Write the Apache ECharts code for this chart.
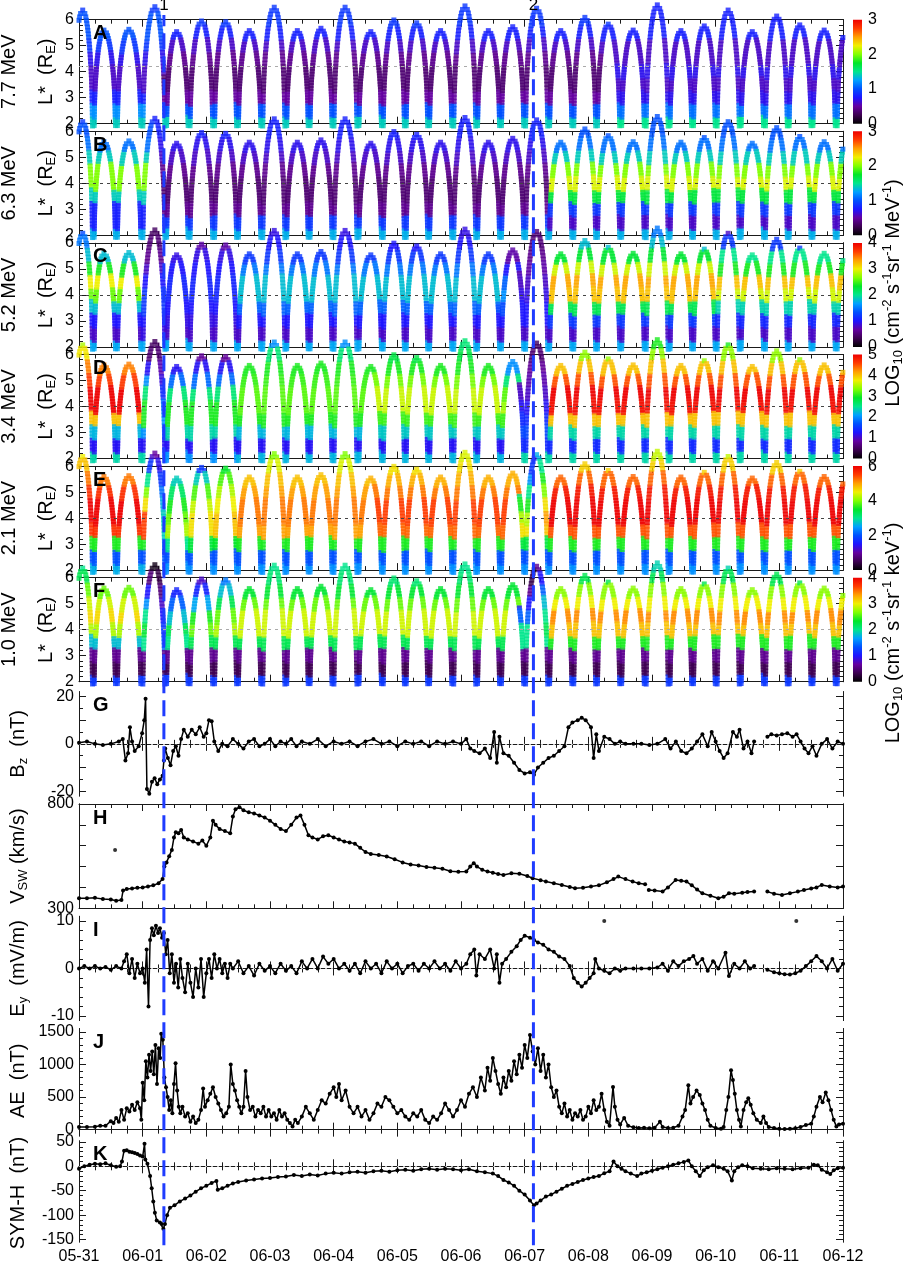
<!DOCTYPE html>
<html>
<head>
<meta charset="utf-8">
<title>Radiation belt electrons and solar wind, 31 May - 12 June</title>
<script src="https://cdn.jsdelivr.net/npm/echarts/dist/echarts.min.js"></script>
<style>
  html, body { margin: 0; padding: 0; background: #fff; }
  #chart { width: 906px; height: 1265px; }
</style>
</head>
<body>
<div id="chart"></div>
<script>
var FONT = '"Liberation Sans", Arial, Helvetica, sans-serif';

// ---- time axis (hours from 05-31 00:00) ----
var dayLabels = ['05-31', '06-01', '06-02', '06-03', '06-04', '06-05', '06-06', '06-07', '06-08', '06-09', '06-10', '06-11', '06-12'];
var eventT = [32.0, 171.3];
var eventNames = ['1', '2'];

// ---- orbit apogees ----
var peakT = [1.4, 9.4, 18.8, 28.6, 36.8, 46.2, 55.3, 64.2, 73.6, 82.3, 91.2, 100.3, 110.0, 118.7, 127.3, 136.3, 145.5,
             154.3, 163.5, 172.5, 181.6, 190.7, 199.5, 208.9, 218.0, 226.9, 235.7, 244.7, 253.8, 263.0, 271.7, 280.9, 290.0];
var peakL = [6.37, 5.6, 5.63, 6.5, 5.54, 5.95, 5.92, 5.58, 6.48, 5.58, 5.67, 6.48, 5.54, 5.99, 5.88, 5.58, 6.53,
             5.58, 5.73, 6.44, 5.58, 6.09, 5.83, 5.6, 6.57, 5.58, 5.76, 6.37, 5.54, 6.14, 5.8, 5.6, 5.9];
// one orbit's shape: fraction of (apogee - 2) against time from apogee in half orbits
var arcFrac = [1.00, 0.97, 0.94, 0.91, 0.88, 0.85, 0.82, 0.79, 0.76, 0.73, 0.70, 0.67, 0.64, 0.61, 0.58, 0.55, 0.52, 0.49,
               0.46, 0.43, 0.40, 0.37, 0.34, 0.31, 0.28, 0.25, 0.22, 0.19, 0.16, 0.13, 0.10, 0.07, 0.04, 0.01, -0.02];
var arcTau = [0.00, 0.20, 0.29, 0.35, 0.40, 0.45, 0.49, 0.53, 0.56, 0.59, 0.62, 0.65, 0.67, 0.70, 0.72, 0.74, 0.76, 0.78,
              0.80, 0.81, 0.83, 0.84, 0.85, 0.86, 0.87, 0.88, 0.885, 0.89, 0.895, 0.90, 0.905, 0.91, 0.915, 0.92, 0.925];
var lNodes = [2, 2.5, 3, 3.5, 4, 4.5, 5, 5.5, 6, 6.5];

var energies = ['7.7 MeV', '6.3 MeV', '5.2 MeV', '3.4 MeV', '2.1 MeV', '1.0 MeV'];
var fluxMax = [3, 3, 4, 5, 6, 4];
var fluxStep = [1, 1, 1, 1, 2, 1];
var refL = [4.2, 4, 4, 4, 4, 4];

// log10 flux at lNodes, valid from the given hour on
var fluxA = [
  [0,   [1.4, 1.2, 0.8, 0.6, 0.6, 0.7, 0.9, 1.0, 1.0, 0.9]],
  [32,  [1.4, 1.0, 0.5, 0.35, 0.35, 0.45, 0.6, 0.8, 0.9, 0.9]],
  [200, [1.5, 1.1, 0.7, 0.6, 0.7, 0.6, 0.6, 0.8, 0.8, 0.8]]
];
var fluxB = [
  [0,    [1.3, 0.8, 0.8, 1.4, 2.0, 2.0, 1.4, 1.1, 1.0, 0.9]],
  [28.6, [1.3, 0.9, 0.45, 0.35, 0.35, 0.45, 0.6, 0.7, 0.8, 0.8]],
  [177,  [1.3, 0.6, 0.9, 1.7, 2.2, 2.0, 1.4, 1.1, 1.0, 1.0]]
];
var fluxC = [
  [0,   [1.7, 0.8, 1.0, 1.8, 2.6, 3.0, 2.4, 1.8, 1.5, 1.3]],
  [24,  [1.7, 0.9, 1.0, 1.2, 1.2, 1.0, 0.8, 0.6, 0.5, 0.4]],
  [33,  [1.7, 0.8, 0.9, 1.0, 1.1, 1.1, 1.0, 0.9, 0.7, 0.6]],
  [60,  [1.7, 0.8, 1.0, 1.4, 1.8, 1.8, 1.5, 1.2, 1.0, 0.9]],
  [158, [1.7, 0.8, 1.0, 1.3, 1.6, 1.4, 1.0, 0.7, 0.6, 0.5]],
  [166, [1.7, 0.8, 1.0, 1.0, 0.9, 0.8, 0.7, 0.6, 0.5, 0.5]],
  [177, [1.7, 0.8, 1.2, 2.2, 3.2, 3.3, 2.9, 2.3, 1.8, 1.5]],
  [240, [1.7, 0.8, 1.1, 1.9, 2.9, 3.2, 2.4, 2.0, 1.2, 0.8]]
];
var fluxD = [
  [0,    [2.4, 1.2, 2.2, 4.0, 5.0, 5.0, 4.6, 4.3, 3.8, 3.5]],
  [24,   [2.4, 1.2, 2.0, 3.0, 3.0, 2.6, 2.0, 1.2, 0.6, 0.5]],
  [28.6, [2.0, 1.2, 1.8, 2.0, 1.8, 1.4, 1.1, 0.9, 0.6, 0.5]],
  [33,   [2.0, 1.2, 2.4, 3.0, 3.0, 2.6, 1.8, 1.2, 0.8, 0.7]],
  [60,   [2.2, 1.2, 2.2, 3.0, 3.2, 3.2, 3.1, 3.0, 2.6, 2.0]],
  [110,  [2.2, 1.2, 2.3, 3.1, 3.6, 3.6, 3.3, 3.0, 2.8, 2.6]],
  [160,  [2.2, 1.2, 2.3, 3.0, 3.4, 3.2, 2.6, 2.0, 1.6, 1.4]],
  [166,  [2.4, 1.4, 1.6, 1.4, 1.2, 1.0, 0.9, 0.8, 0.6, 0.5]],
  [177,  [2.4, 1.4, 2.4, 4.0, 4.9, 5.0, 4.5, 4.0, 3.4, 3.0]]
];
var fluxE = [
  [0,     [2.6, 2.0, 3.6, 5.6, 6.0, 6.0, 5.6, 5.2, 4.8, 4.5]],
  [24,    [2.6, 2.0, 3.6, 5.5, 5.5, 4.6, 4.0, 3.0, 1.8, 1.2]],
  [28.6,  [2.4, 2.0, 2.6, 2.8, 2.8, 2.6, 2.2, 1.8, 1.4, 1.0]],
  [33,    [2.4, 2.0, 3.0, 4.2, 3.9, 3.6, 3.2, 2.8, 2.4, 2.0]],
  [42,    [2.4, 2.0, 3.4, 4.6, 4.6, 4.3, 3.8, 2.8, 1.8, 1.5]],
  [51,    [2.4, 2.0, 3.5, 4.8, 4.8, 4.5, 4.2, 3.8, 3.5, 3.2]],
  [60,    [2.4, 2.0, 3.6, 5.0, 5.2, 5.2, 5.0, 4.8, 4.4, 4.0]],
  [110,   [2.4, 2.0, 3.6, 5.3, 5.5, 5.5, 5.2, 4.9, 4.6, 4.4]],
  [166,   [2.4, 2.0, 3.4, 4.6, 4.2, 3.6, 3.0, 2.4, 1.8, 1.4]],
  [172.5, [2.4, 2.0, 3.4, 4.8, 5.0, 4.6, 4.0, 3.6, 3.0, 2.6]],
  [177,   [2.4, 2.0, 3.6, 5.4, 6.0, 6.0, 5.8, 5.3, 4.7, 4.3]]
];
var fluxF = [
  [0,     [1.2, 0.35, 0.6, 1.8, 2.8, 3.1, 2.9, 2.6, 2.2, 2.0]],
  [24,    [1.2, 0.35, 0.6, 2.0, 2.3, 2.0, 1.6, 1.0, 0.5, 0.1]],
  [28.6,  [1.2, 0.35, 0.6, 1.4, 1.2, 1.0, 0.8, 0.5, 0.3, 0.1]],
  [33,    [1.2, 0.35, 0.6, 2.0, 2.2, 1.8, 1.4, 1.1, 1.0, 0.9]],
  [42,    [1.2, 0.35, 0.6, 2.2, 2.6, 2.4, 1.7, 1.1, 0.8, 0.6]],
  [51,    [1.2, 0.35, 0.6, 2.2, 2.8, 2.6, 2.2, 1.8, 1.5, 1.3]],
  [60,    [1.2, 0.35, 0.6, 2.2, 2.9, 2.9, 2.6, 2.3, 2.1, 2.0]],
  [166,   [1.2, 0.35, 0.6, 2.0, 2.0, 1.4, 1.0, 0.6, 0.3, 0.1]],
  [172.5, [1.2, 0.35, 0.6, 2.0, 2.2, 2.0, 1.8, 1.4, 1.0, 0.6]],
  [177,   [1.2, 0.35, 0.6, 2.4, 3.2, 3.4, 3.0, 2.7, 2.2, 1.9]]
];
var fluxSegs = [fluxA, fluxB, fluxC, fluxD, fluxE, fluxF];

// ---- solar wind and indices: [hour, value] ----
var bz = [[0,0.5],[3,1],[6,0],[9,-0.5],[12,0],[15,1],[16.5,2],[17.5,-7],[18.5,-4],[19.2,7],[20,1],[21,-3],[22.5,-1],
  [23.8,4.5],[24.6,10],[25.1,19],[25.6,-19],[26.5,-21],[27.5,-16],[28.5,-14.5],[29.5,-17],[30.5,-15],[31.5,-13.5],
  [32,-7],[32.5,-2],[33.5,-6],[34.5,-9],[35.5,-3],[36.5,-1],[37.5,-5],[38.5,2],[39.5,6],[41,3],[42.5,6],[44,4],
  [45.5,7],[47,3],[48,4.5],[49,10],[50,9.5],[51,1],[52.5,-3],[54,0],[56,-1],[58,2],[60,0],[62,-2],[64,1],[66,2],
  [68,-1],[70,0],[72,2],[74,-1],[76,1],[78,0],[80,2],[82,-1],[84,1],[87,0],[90,2],[93,-1],[96,1],[99,0],[102,1],
  [105,-1],[108,1],[111,2],[114,0],[117,1],[120,-1],[123,1],[126,0],[129,1],[132,-1],[135,1],[138,0],[141,1],[144,0],
  [146,2],[147.5,-2],[149,-3],[151,-4],[153,-2],[155,-6],[156.5,5],[157.5,-8],[158.5,3],[160,-4],[162,-5],[164,-8],
  [166,-11],[168,-12.5],[170,-12],[171.5,-13],[173,-10],[175,-8],[177,-6],[179,-5],[181,-3],[183,-1],[184.5,7],
  [186,9],[188,10],[189.5,11],[191,10],[193,7],[194,-6],[195,4],[196,-3],[198,3],[200,2],[202,0],[204,1],[206,0],
  [209,0],[212,0],[215,-0.5],[218,0],[221,2],[223,-2],[225,1],[227,-3],[229,-4],[231,-2],[233,1],[235,4],[237,-1],
  [238.5,5],[240,1],[241.5,-3],[243,-6],[244.5,-4],[246.5,5],[248,3],[249,6],[250.5,-2],[252,1],[253.5,-4],[254.5,1],
  [256.5,null],[259.5,3],[261,4],[263,3.5],[265,4],[267,4.5],[269,3],[270.5,4],[272,1],[273.5,-2],[275,-4],
  [276.5,-1],[278,-5],[280,0],[282,2],[284,-2],[286,1],[288,0]];

var vsw = [[0,348],[3,348],[6,350],[9,345],[12,342],[14,336],[16,340],[16.6,385],[18,392],[20,395],[22,398],[24,400],
  [26,405],[28,410],[30,420],[31.5,440],[32.2,500],[33,520],[34,550],[35,580],[35.8,640],[36.5,665],[37.5,660],
  [38.5,675],[39.5,640],[41,630],[43,620],[45,610],[46.5,625],[48,600],[49.5,640],[50.5,720],[51.5,700],[53,680],
  [55,670],[57,660],[58,740],[59,775],[60.5,785],[62,770],[64,760],[66,755],[68,745],[70,735],[72,720],[74,700],
  [76,680],[78,670],[80,700],[82,735],[83.5,745],[85,700],[86.5,650],[88,640],[90,630],[92,645],[94,650],[96,640],
  [98,630],[100,620],[102,615],[104,610],[106,590],[108,570],[110,560],[113,555],[116,548],[119,535],[122,520],
  [125,510],[128,505],[131,498],[134,494],[137,490],[140,478],[143,475],[146,476],[147.5,500],[148.8,516],[150,500],
  [152,485],[154,476],[156,470],[158,464],[160,460],[163,468],[166,466],[169,455],[171,444],[174,435],[176,428],
  [179,420],[182,412],[185,402],[187,396],[190,398],[193,404],[196,410],[199,425],[201.5,440],[203.3,452],[206,440],
  [208.7,428],[211,420],[213.4,415],[214.1,null],[214.8,388],[217,385],[220,380],[222,400],[224.9,436],[227,432],
  [229,428],[231,410],[233,390],[235,372],[238,360],[241,348],[243,355],[245,372],[247,370],[250,375],[252,378],
  [254.5,380],[256.5,null],[259.5,380],[262,370],[265,364],[268,372],[271,380],[273.3,388],[276,395],[278,400],
  [280,412],[283,405],[286,400],[288,404]];
var vswOutliers = [[13.6, 580]];

var ey = [[0,0],[2,0.5],[4,0],[6,0.5],[8,0],[10,0.3],[12,-0.3],[14,0.5],[16,0],[17,1.5],[18,3],[19,-1],[20,2],[21,-2],
  [22,1],[23,-1],[24,0],[24.8,-3],[25.5,4],[26.2,-8],[26.8,6],[27.5,8.5],[28.2,7],[29,9],[29.8,7.5],[30.5,8.5],
  [31.3,6.5],[32,7.5],[32.7,3],[33.4,6],[34.2,-1],[35,3],[35.8,-3],[36.6,1],[37.4,-4],[38.2,2],[39,-2],[40,-5],[41,1],
  [42,-3],[43,-6],[44,0],[45,-4],[46,2],[47,-6],[48,-1],[49,2],[50,-2],[51,3],[52,0],[53,2],[54,-1],[55,1],[56,-2],
  [57,1],[58,0],[60,1.5],[62,-1],[64,0.5],[66,-1.5],[68,1],[70,-0.5],[72,0.5],[74,-1],[76,1],[78,-0.5],[80,0.5],
  [82,-1],[84,1.5],[86,0],[88,2],[90,0],[92,2.5],[94,1],[96,2],[98,0],[100,1],[102,-0.5],[104,1],[106,-1],[108,1.5],
  [110,0],[112,1],[114,-1],[116,1.5],[118,0],[120,1],[122,-1],[124,0.5],[126,1],[128,-0.5],[130,1],[132,0],[134,1.5],
  [136,0],[138,1],[140,-0.5],[142,1.5],[144,0],[146,1],[147.5,3],[149,4],[149.8,-1.5],[151,3],[153,2],[155,4],
  [156.5,0],[157.5,3],[158.5,-3],[159.5,1],[161,2],[163,3.5],[165,4.7],[166.5,6],[168,6.9],[170,6.5],[171.5,6],
  [173,5.5],[175,5],[177,4],[179,3.5],[181,2.5],[183,2],[185,0.5],[186.5,-2],[188,-3],[189.5,-3.8],[191,-3],
  [192.5,-2],[194,-1],[194.6,2],[196,0],[198,-0.5],[200,-1],[202,0],[204,-0.5],[206,0],[209,0],[212,0],[215,0],
  [218,0.2],[220,1],[222,-0.5],[224,1.5],[226,0.5],[228,1.5],[230,2],[231.6,2.6],[233,1],[235,2],[237,-0.5],[239,1.5],
  [241,0],[243.7,3.3],[245,-1.6],[247,1],[249,0],[251,1.5],[253,0],[254.5,0.5],[256.5,null],[259.5,-0.3],[262,-0.8],
  [264,-1],[266,-1.2],[268,-1.3],[270,-1],[272,-0.5],[274,0.5],[276,1.5],[278,2.6],[280,1.5],[282,0],[284,2],
  [286,-0.5],[288,1]];
var eyOutliers = [[198, 10], [270.4, 10]];

var ae = [[0,40],[3,40],[6,45],[8,60],[10,60],[12,130],[13,100],[14,180],[15,120],[16,300],[17,150],[18,330],[19,280],
  [20,380],[21,300],[22,420],[23,330],[23.5,150],[24,720],[24.6,450],[25.2,1050],[25.8,800],[26.4,1150],[27,900],
  [27.6,1200],[28.2,850],[28.8,1300],[29.4,700],[30,1250],[30.6,1100],[31,1470],[31.6,1380],[32.2,800],[32.8,650],
  [33.4,500],[34,300],[34.6,450],[35.2,250],[35.8,700],[36.4,1020],[37,600],[37.6,350],[38.2,250],[39,350],[40,200],
  [41,250],[42,120],[43,200],[44,100],[45,150],[46,300],[46.8,630],[47.5,350],[48.5,450],[49.5,550],[50.5,650],
  [51.5,500],[52.5,400],[53.5,300],[54.5,200],[55.5,250],[56.5,350],[57.2,1000],[58,700],[58.8,600],[59.6,450],
  [60.4,350],[61.2,250],[62,350],[62.8,900],[63.5,500],[64.5,300],[65.5,350],[66.5,200],[67.5,300],[68.5,250],
  [69.5,350],[70.5,200],[71.5,300],[72.5,200],[73.5,250],[74.5,150],[75.5,300],[76.5,200],[77.5,250],[78.5,150],
  [79.5,100],[80.5,50],[81.5,150],[82.5,100],[84,200],[85.5,350],[87,250],[88.5,150],[90,300],[91.5,450],[93,400],
  [94.5,550],[96,650],[97,500],[98,700],[99,450],[100.5,600],[102,350],[103.5,250],[105,350],[106.5,200],[108,300],
  [109.5,150],[111,250],[112.5,400],[114,350],[115.5,500],[117,450],[118.5,350],[120,250],[121.5,300],[123,200],
  [124.5,150],[126,250],[127.5,200],[129,300],[130.5,150],[132,100],[133.5,200],[135,150],[136.5,250],[138,400],
  [139.5,300],[141,200],[142.5,300],[144,450],[145.5,350],[147,550],[148.5,650],[150,500],[151.5,800],[153,600],
  [154,950],[155,750],[156,1100],[157,900],[158,700],[159,550],[160,800],[161,650],[162,900],[163,750],[164,1050],
  [165,850],[166,1150],[167,950],[168,1300],[169,1100],[170,1450],[171,1200],[172,1000],[173,1250],[174,900],
  [175,1150],[176,800],[177,1000],[178,650],[179,500],[180,600],[181,350],[182,250],[183,400],[184,200],[185,300],
  [186,150],[187,250],[188,200],[189,300],[190,150],[191,200],[192,350],[193,250],[194,450],[195,300],[196,350],
  [197,550],[198,300],[199,120],[200,60],[201.3,655],[202,350],[203,150],[204,80],[205.5,180],[207,60],[209,35],
  [211,25],[213,30],[215,20],[217,30],[219,120],[220,40],[222,25],[224,30],[226,60],[227.5,200],[228.5,300],
  [229.7,680],[230.5,400],[231.5,500],[232.8,600],[234,530],[235,400],[236,300],[237,150],[238,60],[240,25],[242,15],
  [243,40],[244,300],[244.8,500],[245.8,910],[246.5,760],[247.2,550],[248,300],[248.8,150],[249.5,50],[250.5,300],
  [251.5,420],[252.3,480],[253.2,380],[254.2,250],[255.5,150],[257,100],[258,200],[259,100],[260,40],[262,25],
  [264,15],[266,10],[268,15],[270,20],[272,40],[274,70],[276,90],[277,200],[278,350],[279.3,500],[280.3,420],
  [281.5,570],[282.5,450],[283.5,300],[284.5,150],[285.5,50],[286.5,80],[288,90]];

var symh = [[0,-5],[2,0],[4,3],[6,5],[8,4],[10,6],[12,2],[14,-1],[15.5,0],[16.2,10],[17,32],[18,33],[19,30],[20,29],
  [21,27],[22,25],[23,22],[24,20],[24.7,46],[25,14],[25.8,5],[26.8,-20],[27.4,-45],[28,-72],[28.6,-95],[29.3,-111],
  [30.5,-115],[31.2,-118],[31.8,-128],[32.4,-118],[33.2,-100],[34.3,-85],[36,-80],[38,-72],[40,-66],[42,-60],
  [44,-52],[46,-45],[48,-40],[50,-34],[51.8,-30],[52.3,-48],[54,-45],[56,-40],[58,-35],[60,-32],[63,-29],[66,-27],
  [69,-25],[72,-24],[75,-22],[78,-21],[81,-18],[84,-20],[87,-17],[90,-19],[93,-15],[96,-13],[99,-15],[102,-12],
  [105,-11],[108,-13],[111,-10],[114,-9],[117,-11],[120,-8],[123,-7],[126,-9],[129,-6],[132,-5],[135,-7],[138,-5],
  [141,-6],[144,-8],[147,-6],[150,-10],[153,-12],[156,-15],[158,-20],[160,-28],[162,-33],[164,-40],[166,-50],
  [168,-58],[170,-70],[171.5,-80],[172.5,-76],[174,-70],[176,-62],[178,-58],[180,-52],[182,-46],[184,-40],[186,-36],
  [188,-32],[190,-28],[192,-25],[194,-22],[196,-20],[198,-14],[200,-10],[201.5,10],[203,0],[204.5,-5],[206,-10],
  [208,-15],[210.4,-20],[212,-15],[214,-12],[216,-9],[218,-6],[220,-3],[222,0],[224,3],[226,6],[228,9],[229.7,12],
  [231,0],[232.5,-10],[234,-20],[235.5,-8],[237,-2],[239,2],[241,-2],[243,-5],[244.5,-10],[246.1,-29],[247,-10],
  [248.5,-2],[250,2],[252,0],[254,-4],[257,-5],[260,-6],[263,-4],[266,-5],[269,-6],[272,-4],[275,-3],[277,3],
  [278.5,2],[280,-7],[282,-12],[283.2,-16],[284.5,-8],[286,-4],[288,-3]];

// ---- colour table (black - purple - blue - cyan - green - yellow - red) ----
var cmap = ['#000000', '#3c0050', '#6400a0', '#1e14ff', '#0050ff', '#00a0ff', '#00e68c', '#00e628', '#80ff00',
            '#f0f000', '#ffa000', '#ff3c00', '#ee0000'];

// ---------------------------------------------------------------------
var chart = echarts.init(document.getElementById('chart'));
var grids = [], xAxes = [], yAxes = [], series = [], visualMaps = [], graphics = [];
var PL = 79, PR = 906 - 843;
var topsL = [19.7, 131.3, 242.9, 354.5, 466.1, 577.7], hL = 104;
var topsLow = [691.7, 804, 916.3, 1028.6, 1140.9], hLow = 104.3;
var AX = '#1a1a1a';

function fluxAt(segs, t, L) {
  var prof = segs[0][1];
  for (var i = 0; i < segs.length; i++) if (t >= segs[i][0]) prof = segs[i][1];
  var k = Math.round((L - lNodes[0]) / (lNodes[1] - lNodes[0]));
  k = Math.max(0, Math.min(lNodes.length - 1, k));
  return prof[k];
}

function buildArcs(segs) {
  var pts = [];
  function add(t, L) { if (t >= 0 && t <= 288) pts.push([t, L, fluxAt(segs, t, L)]); }
  for (var i = 0; i < peakT.length; i++) {
    var tp = peakT[i], amp = peakL[i] - 2;
    var hl = (i > 0 ? tp - peakT[i - 1] : peakT[i + 1] - tp) / 2;
    var hr = (i < peakT.length - 1 ? peakT[i + 1] - tp : tp - peakT[i - 1]) / 2;
    for (var j = arcFrac.length - 1; j >= 0; j--) add(tp - arcTau[j] * hl, 2 + arcFrac[j] * amp);
    for (var j2 = 1; j2 < arcFrac.length; j2++) add(tp + arcTau[j2] * hr, 2 + arcFrac[j2] * amp);
  }
  return pts;
}

function addTimeAxes(g, showLabels) {
  var line = {show: true, lineStyle: {color: AX, width: 1}};
  var tick = {show: true, inside: true, length: 7, lineStyle: {color: AX}};
  var minor = {show: true, splitNumber: 4, length: 4, lineStyle: {color: AX}};
  xAxes.push({gridIndex: g, type: 'value', min: 0, max: 288, interval: 24, position: 'bottom',
    axisLine: line, axisTick: tick, minorTick: minor, splitLine: {show: false},
    axisLabel: {show: showLabels, showMinLabel: true, showMaxLabel: true, margin: 7, fontSize: 16,
      color: '#000', fontFamily: FONT, formatter: function (v) { return dayLabels[Math.round(v / 24)]; }}});
  xAxes.push({gridIndex: g, type: 'value', min: 0, max: 288, interval: 24, position: 'top',
    axisLine: line, axisTick: tick, minorTick: minor, splitLine: {show: false}, axisLabel: {show: false}});
  return xAxes.length - 2;
}

function addValueAxes(g, min, max, majors, minors, labels) {
  function ax(pos, vals, len, lab) {
    return {gridIndex: g, type: 'value', min: min, max: max, position: pos,
      axisLine: {show: true, lineStyle: {color: AX, width: 1}}, splitLine: {show: false},
      axisTick: {show: vals.length > 0, inside: true, length: len, customValues: vals, lineStyle: {color: AX}},
      axisLabel: lab ? {show: true, customValues: lab, margin: 5, fontSize: 16, color: '#000', fontFamily: FONT,
                        formatter: function (v) { return String(v); }}
                     : {show: false}};
  }
  var first = yAxes.length;
  yAxes.push(ax('left', majors, 7, labels), ax('left', minors, 4, null),
             ax('right', majors, 7, null), ax('right', minors, 4, null));
  return first;
}

function steps(a, b, d, skip) {
  var out = [];
  for (var v = a; v <= b + 1e-9; v += d) {
    var r = Math.round(v * 100) / 100;
    if (!skip || skip.indexOf(r) < 0) out.push(r);
  }
  return out;
}

function vtext(x, y, text) {
  graphics.push({type: 'text', x: x, y: y, rotation: Math.PI / 2, silent: true, z: 100,
    style: {text: text, rich: RICH, align: 'center', verticalAlign: 'middle', fill: '#000'}});
}
var RICH = {
  n: {fontSize: 20, fontFamily: FONT, fill: '#000', lineHeight: 24},
  s: {fontSize: 13, fontFamily: FONT, fill: '#000', lineHeight: 13, verticalAlign: 'bottom'},
  p: {fontSize: 13, fontFamily: FONT, fill: '#000', lineHeight: 13, verticalAlign: 'top'}
};
function letter(top, ch) {
  graphics.push({type: 'text', x: 93, y: top + 14, silent: true, z: 100,
    style: {text: ch, fontSize: 20, fontWeight: 'bold', fontFamily: FONT, fill: '#000', align: 'left', verticalAlign: 'middle'}});
}
var panelLetters = ['A', 'B', 'C', 'D', 'E', 'F', 'G', 'H', 'I', 'J', 'K'];

// ---- L* panels ----
var lMajors = [2, 3, 4, 5, 6];
var lMinors = steps(2, 6, 0.2, lMajors);
var refColors = ['#aaaaaa', '#444444', '#444444', '#444444', '#444444', '#aaaaaa'];
for (var i = 0; i < 6; i++) {
  grids.push({left: PL, right: PR, top: topsL[i], height: hL});
  var g = grids.length - 1;
  var xi = addTimeAxes(g, false);
  var yi = addValueAxes(g, 2, 6, lMajors, lMinors, lMajors);
  series.push({type: 'scatter', xAxisIndex: xi, yAxisIndex: yi, data: buildArcs(fluxSegs[i]),
    symbol: 'rect', symbolSize: 5, clip: false, silent: true, progressive: 0, animation: false,
    markLine: {silent: true, symbol: 'none', label: {show: false}, animation: false,
      lineStyle: {color: refColors[i], type: [3, 4], width: 1}, data: [{yAxis: refL[i]}]}});
  visualMaps.push({type: 'continuous', show: false, seriesIndex: series.length - 1, dimension: 2,
    min: 0, max: fluxMax[i], inRange: {color: cmap}});
  letter(topsL[i], panelLetters[i]);
  vtext(9, topsL[i] + hL / 2, '{n|' + energies[i] + '}');
  vtext(46, topsL[i] + hL / 2, '{n|L*  (R}{s|E}{n|)}');
}

// ---- solar wind / index panels ----
var lower = [
  {data: bz, out: null, min: -22, max: 22, majors: [-20, -10, 0, 10, 20], minors: [-15, -5, 5, 15],
   labels: [-20, 0, 20], zero: true, title: '{n|B}{s|z}{n|  (nT)}'},
  {data: vsw, out: vswOutliers, min: 300, max: 800, majors: steps(300, 800, 100), minors: [],
   labels: [300, 800], zero: false, title: '{n|V}{s|SW}{n| (km/s)}'},
  {data: ey, out: eyOutliers, min: -11, max: 11, majors: [-10, 0, 10], minors: [-8, -6, -4, -2, 2, 4, 6, 8],
   labels: [-10, 0, 10], zero: true, title: '{n|E}{s|y}{n|  (mV/m)}'},
  {data: ae, out: null, min: -50, max: 1550, majors: [0, 500, 1000, 1500], minors: steps(100, 1400, 100, [500, 1000]),
   labels: [0, 500, 1000, 1500], zero: false, title: '{n|AE  (nT)}'},
  {data: symh, out: null, min: -155, max: 52, majors: [-150, -100, -50, 0, 50],
   minors: steps(-150, 50, 10, [-150, -100, -50, 0, 50]), labels: [-150, -100, -50, 0, 50], zero: true,
   title: '{n|SYM-H  (nT)}'}
];
for (var k = 0; k < lower.length; k++) {
  var p = lower[k];
  grids.push({left: PL, right: PR, top: topsLow[k], height: hLow});
  var gl = grids.length - 1;
  var xl = addTimeAxes(gl, k === lower.length - 1);
  var yl = addValueAxes(gl, p.min, p.max, p.majors, p.minors, p.labels);
  var s = {type: 'line', xAxisIndex: xl, yAxisIndex: yl, data: p.data, symbol: 'circle', symbolSize: 4,
    showSymbol: true, showAllSymbol: true, connectNulls: false, silent: true, animation: false, z: 3,
    lineStyle: {color: '#000', width: 1.5}, itemStyle: {color: '#000'}};
  if (p.zero) {
    s.markLine = {silent: true, symbol: 'none', label: {show: false}, animation: false, z: 1,
      lineStyle: {color: '#bbbbbb', type: [2, 4], width: 1}, data: [{yAxis: 0}]};
  }
  series.push(s);
  if (p.out) {
    series.push({type: 'scatter', xAxisIndex: xl, yAxisIndex: yl, data: p.out, symbolSize: 4, silent: true,
      animation: false, itemStyle: {color: '#000'}});
  }
  letter(topsLow[k], panelLetters[6 + k]);
  vtext(18, topsLow[k] + hLow / 2, p.title);
}

// ---- colour bars ----
var stops = cmap.map(function (c, j) { return {offset: j / (cmap.length - 1), color: c}; });
for (var c = 0; c < 6; c++) {
  grids.push({left: 853, width: 9, top: topsL[c], height: hL});
  var gc = grids.length - 1;
  xAxes.push({gridIndex: gc, type: 'category', data: ['c'], show: false});
  yAxes.push({gridIndex: gc, type: 'value', min: 0, max: fluxMax[c], interval: fluxStep[c], position: 'right',
    axisLine: {show: false}, axisTick: {show: false}, splitLine: {show: false},
    axisLabel: {margin: 6, fontSize: 16, color: '#000', fontFamily: FONT}});
  series.push({type: 'bar', xAxisIndex: xAxes.length - 1, yAxisIndex: yAxes.length - 1, data: [fluxMax[c]],
    barWidth: '100%', silent: true, animation: false,
    itemStyle: {color: new echarts.graphic.LinearGradient(0, 1, 0, 0, stops)}});
}
vtext(893, 293, '{n|LOG}{s|10}{n| (cm}{p|-2}{n| s}{p|-1}{n|sr}{p|-1}{n| MeV}{p|-1}{n|)}');
vtext(893, 633, '{n|LOG}{s|10}{n| (cm}{p|-2}{n| s}{p|-1}{n|sr}{p|-1}{n| keV}{p|-1}{n|)}');

// ---- event lines across all panels ----
grids.push({left: PL, right: PR, top: 15, bottom: 1265 - 1245.2});
var ge = grids.length - 1;
xAxes.push({gridIndex: ge, type: 'value', min: 0, max: 288, show: false});
yAxes.push({gridIndex: ge, type: 'value', min: 0, max: 1, show: false});
for (var e = 0; e < eventT.length; e++) {
  series.push({type: 'line', xAxisIndex: xAxes.length - 1, yAxisIndex: yAxes.length - 1,
    data: [[eventT[e], 0], [eventT[e], 1]], symbol: 'none', silent: true, animation: false, z: 5,
    lineStyle: {color: '#1f3cff', width: 3, type: [16, 7]}});
}

chart.setOption({
  animation: false,
  backgroundColor: '#ffffff',
  textStyle: {fontFamily: FONT},
  grid: grids,
  xAxis: xAxes,
  yAxis: yAxes,
  visualMap: visualMaps,
  series: series,
  graphic: graphics
});

// event numbers above the dashed lines, placed through the overlay grid's scales
var eventLabels = eventT.map(function (t, n) {
  var px = chart.convertToPixel({gridIndex: ge}, [t, 1]);
  return {type: 'text', x: px[0], y: px[1] - 1, silent: true, z: 100,
    style: {text: eventNames[n], fontSize: 17, fontFamily: FONT, fill: '#000', align: 'center', verticalAlign: 'bottom'}};
});
chart.setOption({graphic: graphics.concat(eventLabels)});
</script>
</body>
</html>
